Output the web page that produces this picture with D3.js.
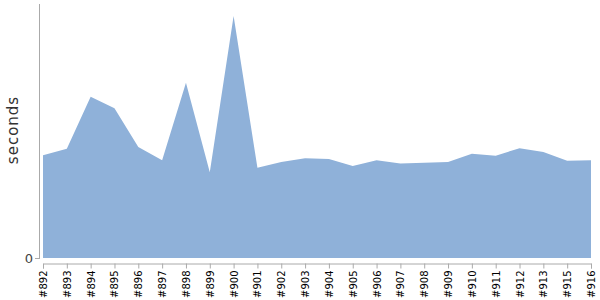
<!DOCTYPE html>
<html>
<head>
<meta charset="utf-8">
<script src="https://cdn.jsdelivr.net/npm/d3@7"></script>
<style>
body { margin: 0; background: #fff; }
svg { display: block; font-family: "DejaVu Sans", Verdana, sans-serif; }
</style>
</head>
<body>
<svg id="chart" width="600" height="300"></svg>
<script>
var builds = ["#892","#893","#894","#895","#896","#897","#898","#899","#900","#901",
  "#902","#903","#904","#905","#906","#907","#908","#909","#910","#911",
  "#912","#913","#915","#916"];
var seconds = [16.2,17.2,25.4,23.6,17.5,15.4,27.6,13.5,38.1,14.2,
  15.1,15.7,15.6,14.5,15.4,14.9,15.0,15.1,16.4,16.1,
  17.3,16.7,15.3,15.4];
var yTicks = [0];

var svg = d3.select("#chart");

var x = d3.scalePoint().domain(builds).range([43, 591]);
var y = d3.scaleLinear().domain([0, 40]).range([258, 4]);

// filled area
var area = d3.area()
  .x(function(d, i){ return x(builds[i]); })
  .y0(y(0))
  .y1(function(d){ return y(d); });

svg.append("path")
  .datum(seconds)
  .attr("d", area)
  .attr("fill", "#8fb1d9");

// y axis
svg.append("line")
  .attr("x1", 39.5).attr("x2", 39.5)
  .attr("y1", 4).attr("y2", 259)
  .attr("stroke", "#aaa");

svg.selectAll(".ytick").data(yTicks).enter().append("line")
  .attr("x1", 35).attr("x2", 39.5)
  .attr("y1", function(d){ return y(d) + 0.5; })
  .attr("y2", function(d){ return y(d) + 0.5; })
  .attr("stroke", "#aaa");

svg.selectAll(".ylab").data(yTicks).enter().append("text")
  .attr("x", 33).attr("y", function(d){ return y(d); })
  .attr("text-anchor", "end")
  .attr("dominant-baseline", "central")
  .style("font-size", "13px")
  .style("fill", "#444")
  .text(function(d){ return d; });

svg.append("text")
  .attr("transform", "translate(18,130) rotate(-90)")
  .attr("text-anchor", "middle")
  .style("font-size", "15px")
  .style("letter-spacing", "1px")
  .style("fill", "#333")
  .text("seconds");

// x axis
var xAxis = svg.append("g")
  .attr("transform", "translate(0,263.5)")
  .call(d3.axisBottom(x).tickSizeOuter(0).tickSize(5));

xAxis.select(".domain").attr("stroke", "#aaa");
xAxis.selectAll(".tick line").attr("stroke", "#aaa");
xAxis.selectAll(".tick text")
  .attr("transform", "rotate(-90)")
  .attr("x", -7).attr("y", 0)
  .attr("dy", "0.35em")
  .attr("text-anchor", "end")
  .style("font-family", "\"DejaVu Sans\", Verdana, sans-serif")
  .style("font-size", "10px")
  .style("fill", "#000");
</script>
</body>
</html>
